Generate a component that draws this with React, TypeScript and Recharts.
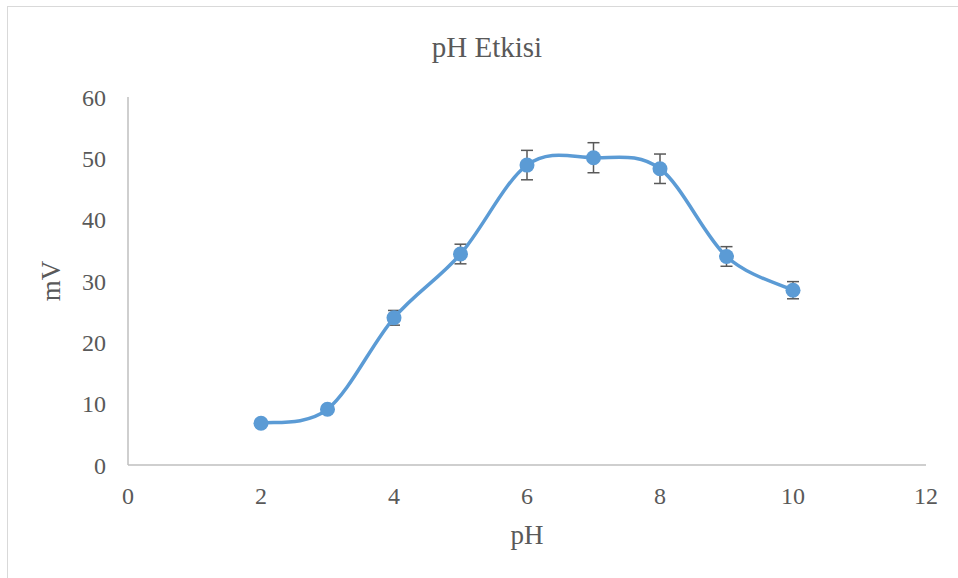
import React from 'react';
import { LineChart, Line, XAxis, YAxis, ErrorBar, Label } from 'recharts';

const phValues = [2, 3, 4, 5, 6, 7, 8, 9, 10];
const mvValues = [6.8, 9.1, 24.0, 34.4, 48.9, 50.1, 48.3, 34.0, 28.5];
const mvErrors = [0, 0, 1.2, 1.6, 2.4, 2.45, 2.4, 1.6, 1.4];
const xTicks = [0, 2, 4, 6, 8, 10, 12];
const yTicks = [0, 10, 20, 30, 40, 50, 60];

const chartData = phValues.map((ph, i) => ({ ph, mv: mvValues[i], err: mvErrors[i] }));

const FONT = '"Liberation Serif", "Times New Roman", serif';
const TEXT = '#595959';

// Excel-style smoothed line (Catmull-Rom as cubic bezier)
class SmoothCurve {
  ctx: any;
  pts: number[][] = [];
  constructor(ctx: any) {
    this.ctx = ctx;
  }
  areaStart() {}
  areaEnd() {}
  lineStart() {
    this.pts = [];
  }
  point(x: number, y: number) {
    this.pts.push([+x, +y]);
  }
  lineEnd() {
    const p = this.pts;
    if (!p.length) return;
    this.ctx.moveTo(p[0][0], p[0][1]);
    for (let i = 0; i < p.length - 1; i++) {
      const p0 = p[i - 1] || p[i];
      const p1 = p[i];
      const p2 = p[i + 1];
      const p3 = p[i + 2] || p2;
      this.ctx.bezierCurveTo(
        p1[0] + (p2[0] - p0[0]) / 6,
        p1[1] + (p2[1] - p0[1]) / 6,
        p2[0] - (p3[0] - p1[0]) / 6,
        p2[1] - (p3[1] - p1[1]) / 6,
        p2[0],
        p2[1]
      );
    }
  }
}

const smooth: any = (ctx: any) => new SmoothCurve(ctx);

export default function App() {
  return (
    <div style={{ position: 'absolute', left: 0, top: 0, width: 958, height: 578, background: '#fff', overflow: 'hidden' }}>
      <div
        style={{
          position: 'absolute',
          left: 7,
          top: 6,
          width: 980,
          height: 600,
          borderLeft: '1.5px solid #d9d9d9',
          borderTop: '1.5px solid #d9d9d9',
        }}
      />
      <div
        style={{
          position: 'absolute',
          left: 0,
          top: 29,
          width: 974,
          textAlign: 'center',
          fontFamily: FONT,
          fontSize: 29,
          color: TEXT,
          lineHeight: '36px',
        }}
      >
        pH Etkisi
      </div>
      <div style={{ position: 'absolute', left: 0, top: 0 }}>
        <LineChart width={958} height={578} data={chartData} margin={{ top: 97, right: 32, left: 0, bottom: 0 }}>
          <XAxis
            dataKey="ph"
            type="number"
            domain={[0, 12]}
            ticks={xTicks}
            tickLine={false}
            tickMargin={16}
            height={113}
            stroke="#bfbfbf"
            strokeWidth={1.5}
            tick={{ fill: TEXT, fontFamily: FONT, fontSize: 24 }}
          >
            <Label value="pH" position="insideTop" offset={60} style={{ fill: TEXT, fontFamily: FONT, fontSize: 27 }} />
          </XAxis>
          <YAxis
            type="number"
            domain={[0, 60]}
            ticks={yTicks}
            tickLine={false}
            tickMargin={16}
            width={128}
            stroke="#bfbfbf"
            strokeWidth={1.5}
            tick={{ fill: TEXT, fontFamily: FONT, fontSize: 24 }}
          >
            <Label
              value="mV"
              angle={-90}
              position="insideLeft"
              offset={50}
              style={{ fill: TEXT, fontFamily: FONT, fontSize: 27, textAnchor: 'middle' }}
            />
          </YAxis>
          <Line
            dataKey="mv"
            type={smooth}
            stroke="#5b9bd5"
            strokeWidth={3.5}
            dot={{ r: 7.5, fill: '#5b9bd5', stroke: '#5b9bd5', strokeWidth: 0 }}
            activeDot={false}
            isAnimationActive={false}
          >
            <ErrorBar dataKey="err" direction="y" width={6} stroke="#595959" strokeWidth={1.5} isAnimationActive={false} />
          </Line>
        </LineChart>
      </div>
    </div>
  );
}
